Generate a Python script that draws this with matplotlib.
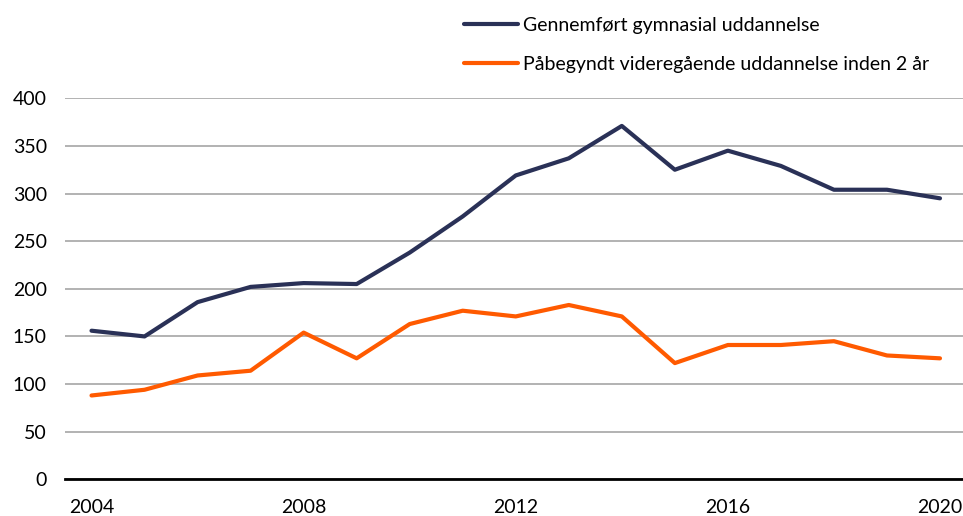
import matplotlib
matplotlib.use('Agg')
import matplotlib.pyplot as plt

# data
years = list(range(2004, 2021))
gennemfoert = [156, 150, 186, 202, 206, 205, 238, 276, 319, 337, 371, 325, 345, 329, 304, 304, 295]
paabegyndt = [88, 94, 109, 114, 154, 127, 163, 177, 171, 183, 171, 122, 141, 141, 145, 130, 127]
labels = ['Gennemført gymnasial uddannelse',
          'Påbegyndt videregående uddannelse inden 2 år']
xticks = [2004, 2008, 2012, 2016, 2020]
yticks = list(range(0, 401, 50))

plt.rcParams['font.family'] = ['Lato', 'DejaVu Sans']

fig = plt.figure(figsize=(9.63, 5.16), dpi=100)
ax = fig.add_axes([65 / 963, 36.7 / 516, 901.5 / 963, 381 / 516])

ax.plot(years, gennemfoert, color='#2a3157', lw=3, label=labels[0], solid_capstyle='round')
ax.plot(years, paabegyndt, color='#ff5a00', lw=3, label=labels[1], solid_capstyle='round')

ax.set_xlim(2003.5, 2020.5)
ax.set_ylim(0, 400)
ax.set_xticks(xticks)
ax.set_yticks(yticks)
ax.grid(axis='y', color='#a6a6a6', lw=1.2)
ax.set_axisbelow(True)

for side in ['top', 'right', 'left']:
    ax.spines[side].set_visible(False)
ax.spines['bottom'].set_linewidth(2)
ax.spines['bottom'].set_zorder(5)
ax.tick_params(axis='both', length=0, labelsize=14, colors='black')
ax.tick_params(axis='x', pad=14)
ax.tick_params(axis='y', pad=13)

fig.legend(loc='upper left', bbox_to_anchor=(446 / 963, 1 + 1 / 516), frameon=False,
           fontsize=14, handlelength=2.8, handletextpad=0.25, labelspacing=1.15)

fig.savefig('out.png', dpi=100)
